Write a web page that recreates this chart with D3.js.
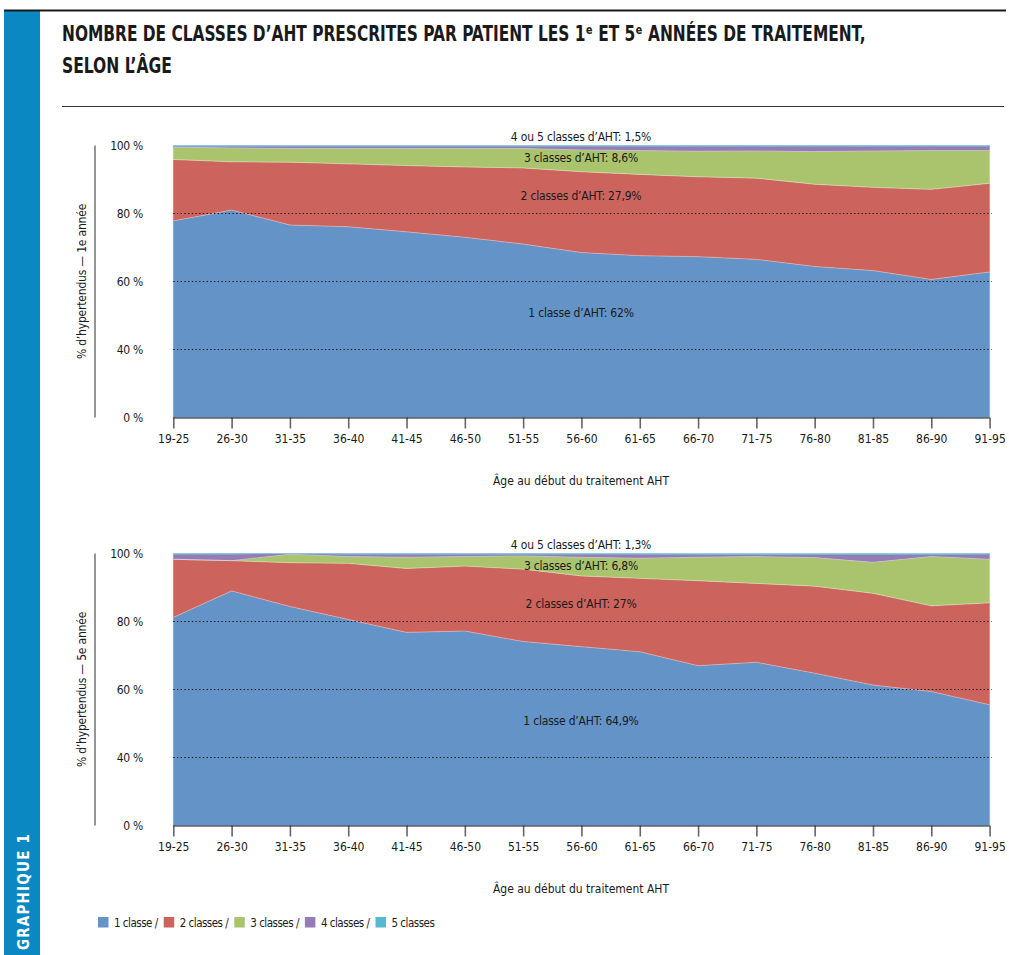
<!DOCTYPE html>
<html lang="fr">
<head>
<meta charset="utf-8">
<script src="https://cdn.jsdelivr.net/npm/d3@7"></script>
<style>
  html, body { margin: 0; padding: 0; background: #fff; }
  svg { display: block; }
  text { font-family: "Liberation Sans Narrow", "DejaVu Sans Condensed", "Arial Narrow", sans-serif; fill: #1a1a1a; }
</style>
</head>
<body>
<svg id="chart" width="1009" height="955"></svg>
<script>
// Age groups at treatment start
const ageGroups = ["19-25","26-30","31-35","36-40","41-45","46-50","51-55","56-60","61-65","66-70","71-75","76-80","81-85","86-90","91-95"];
const seriesKeys = ["1 classe","2 classes","3 classes","4 classes","5 classes"];
const seriesColors = ["#6393c7","#cc645d","#a9c46d","#957cb5","#55b9d0"];

// % of patients by number of AHT classes — first year
const year1OneClass    = [77.8, 81.0, 76.6, 76.1, 74.6, 73.0, 71.0, 68.5, 67.6, 67.3, 66.5, 64.4, 63.2, 60.6, 62.8];
const year1TwoClasses  = [18.1, 14.2, 18.5, 18.5, 19.5, 20.7, 22.4, 23.8, 23.9, 23.5, 23.9, 24.2, 24.5, 26.5, 26.1];
const year1ThreeClasses= [ 3.6,  4.1,  4.0,  4.5,  5.0,  5.4,  5.7,  6.4,  7.0,  7.5,  8.0,  9.6, 10.7, 11.4,  9.6];
const year1FourClasses = [ 0.3,  0.5,  0.7,  0.7,  0.7,  0.7,  0.7,  1.1,  1.3,  1.5,  1.4,  1.6,  1.4,  1.3,  1.3];
const year1FiveClasses = [ 0.2,  0.2,  0.2,  0.2,  0.2,  0.2,  0.2,  0.2,  0.2,  0.2,  0.2,  0.2,  0.2,  0.2,  0.2];

// % of patients by number of AHT classes — fifth year
const year5OneClass    = [81.2, 89.0, 84.4, 80.6, 76.8, 77.2, 74.1, 72.6, 71.1, 67.0, 68.0, 64.8, 61.3, 59.4, 55.5];
const year5TwoClasses  = [17.1,  8.9, 12.9, 16.5, 18.8, 19.1, 21.3, 20.8, 21.6, 25.0, 23.2, 25.6, 27.0, 25.2, 30.0];
const year5ThreeClasses= [ 0.0,  0.0,  2.5,  2.0,  3.3,  2.8,  3.9,  5.5,  5.9,  6.9,  7.9,  8.4,  9.1, 14.5, 12.8];
const year5FourClasses = [ 1.5,  1.9,  0.1,  0.7,  0.9,  0.7,  0.5,  0.9,  1.2,  0.8,  0.6,  0.9,  2.3,  0.6,  1.5];
const year5FiveClasses = [ 0.2,  0.2,  0.1,  0.2,  0.2,  0.2,  0.2,  0.2,  0.2,  0.3,  0.3,  0.3,  0.3,  0.3,  0.2];

// Overall shares written on each panel (top band first)
const year1Notes = ["4 ou 5 classes d’AHT: 1,5%", "3 classes d’AHT: 8,6%", "2 classes d’AHT: 27,9%", "1 classe d’AHT: 62%"];
const year5Notes = ["4 ou 5 classes d’AHT: 1,3%", "3 classes d’AHT: 6,8%", "2 classes d’AHT: 27%", "1 classe d’AHT: 64,9%"];

// Value axis: the lowest tick sits at the bottom of the plot and reads "0 %"
const yTickValues = [100, 80, 60, 40, 20];
const yTickLabels = ["100 %", "80 %", "60 %", "40 %", "0 %"];
const gridValues = [80, 60, 40];

const svg = d3.select("#chart");

// ---- page frame ----
svg.append("rect").attr("x", 4).attr("y", 11).attr("width", 36).attr("height", 944).attr("fill", "#0a88c1");
svg.append("line").attr("x1", 4).attr("x2", 1006).attr("y1", 10.5).attr("y2", 10.5)
  .attr("stroke", "#1a1a1a").attr("stroke-width", 2);
svg.append("line").attr("x1", 62).attr("x2", 1004).attr("y1", 106.5).attr("y2", 106.5)
  .attr("stroke", "#333").attr("stroke-width", 1);
svg.append("text")
  .attr("transform", "translate(29,950) rotate(-90)")
  .attr("font-size", 15).attr("font-weight", "bold").attr("letter-spacing", 1.2)
  .style("fill", "#fff")
  .text("GRAPHIQUE 1");

// ---- title: condensed horizontally to its set width ----
function titleLine(str, left, baseline, width) {
  const t = svg.append("text").attr("font-size", 22).attr("font-weight", "bold").text(str);
  const natural = t.node().getComputedTextLength();
  const sx = Math.min(1, width / natural);
  t.attr("transform", `translate(${left},${baseline}) scale(${sx},1)`);
}
titleLine("NOMBRE DE CLASSES D’AHT PRESCRITES PAR PATIENT LES 1ᵉ ET 5ᵉ ANNÉES DE TRAITEMENT,", 62, 41, 804);
titleLine("SELON L’ÂGE", 62, 73, 110);

// ---- shared horizontal scale ----
const x = d3.scalePoint().domain(ageGroups).range([173.3, 989.6]);

function buildRows(one, two, three, four, five) {
  return ageGroups.map((age, i) => ({
    age,
    "1 classe": one[i], "2 classes": two[i], "3 classes": three[i],
    "4 classes": four[i], "5 classes": five[i]
  }));
}

function drawPanel(rows, yTop, yBottom, axisTitle, notes) {
  const y = d3.scaleLinear().domain([20, 100]).range([yBottom, yTop]).clamp(true);
  const g = svg.append("g");

  const stacked = d3.stack().keys(seriesKeys)(rows);
  const area = d3.area()
    .x(d => x(d.data.age))
    .y0(d => y(d[0]))
    .y1(d => y(d[1]));
  const edge = d3.line().x(d => x(d.data.age)).y(d => y(d[1]));

  g.selectAll("path.layer").data(stacked).join("path")
    .attr("class", "layer")
    .attr("d", area)
    .attr("fill", (d, i) => seriesColors[i])
    .attr("stroke", (d, i) => seriesColors[i])
    .attr("stroke-width", 0.3);

  // faint light seams between bands
  g.selectAll("path.seam").data(stacked.slice(0, 3)).join("path")
    .attr("class", "seam")
    .attr("d", edge)
    .attr("fill", "none")
    .attr("stroke", "rgba(255,255,255,0.35)")
    .attr("stroke-width", 1);

  // dotted gridlines over the areas
  g.selectAll("line.grid").data(gridValues).join("line")
    .attr("class", "grid")
    .attr("x1", x.range()[0]).attr("x2", x.range()[1] + 2)
    .attr("y1", d => y(d)).attr("y2", d => y(d))
    .attr("stroke", "#111").attr("stroke-width", 1.2)
    .attr("stroke-dasharray", "1.3,2.4");

  // value labels on the left
  g.selectAll("text.ytick").data(yTickValues).join("text")
    .attr("class", "ytick")
    .attr("x", 143).attr("y", d => y(d) + 4)
    .attr("text-anchor", "end").attr("font-size", 12)
    .attr("letter-spacing", -0.3)
    .text((d, i) => yTickLabels[i]);

  // grey rule beside the value labels
  g.append("line").attr("x1", 95).attr("x2", 95).attr("y1", yTop).attr("y2", yBottom)
    .attr("stroke", "#7a7a7a").attr("stroke-width", 1.6);

  // axis title (rotated)
  g.append("text")
    .attr("transform", `translate(86,${(yTop + yBottom) / 2}) rotate(-90)`)
    .attr("text-anchor", "middle").attr("font-size", 12).attr("letter-spacing", -0.2)
    .text(axisTitle);

  // category axis
  const xAxis = d3.axisBottom(x).tickSize(11).tickPadding(6);
  const ax = g.append("g").attr("transform", `translate(0,${yBottom})`).call(xAxis);
  ax.select(".domain").remove();
  ax.selectAll(".tick line").attr("stroke", "#666").attr("stroke-width", 1.6);
  ax.selectAll(".tick text").attr("font-size", 12).attr("font-family", null).attr("fill", "#1a1a1a");
  g.append("line").attr("x1", x.range()[0]).attr("x2", x.range()[1])
    .attr("y1", yBottom + 0.5).attr("y2", yBottom + 0.5)
    .attr("stroke", "#1a1a1a").attr("stroke-width", 1);

  g.append("text").attr("x", 581).attr("y", yBottom + 67)
    .attr("text-anchor", "middle").attr("font-size", 12)
    .text("Âge au début du traitement AHT");

  // overall shares, placed at a level of the value scale
  const noteLevels = [101.2, 95.2, 84.0, 49.5];
  g.selectAll("text.note").data(notes).join("text")
    .attr("class", "note")
    .attr("x", 581).attr("y", (d, i) => y.copy().clamp(false)(noteLevels[i]))
    .attr("text-anchor", "middle").attr("font-size", 12).attr("letter-spacing", -0.2)
    .text(d => d);
}

drawPanel(buildRows(year1OneClass, year1TwoClasses, year1ThreeClasses, year1FourClasses, year1FiveClasses),
  145.5, 417.5, "% d’hypertendus — 1e année", year1Notes);
drawPanel(buildRows(year5OneClass, year5TwoClasses, year5ThreeClasses, year5FourClasses, year5FiveClasses),
  553.5, 825.5, "% d’hypertendus — 5e année", year5Notes);

// ---- legend: swatch, label, then the next item right after it ----
const legend = svg.append("g").attr("transform", "translate(98,917)");
const legendLabels = seriesKeys.map((k, i) => i < seriesKeys.length - 1 ? k + " /" : k);
let cursor = 0;
seriesKeys.forEach((k, i) => {
  const item = legend.append("g").attr("transform", `translate(${cursor},0)`);
  item.append("rect").attr("width", 10.5).attr("height", 10.5).attr("fill", seriesColors[i]);
  const label = item.append("text").attr("x", 16).attr("y", 10).attr("font-size", 11.5)
    .attr("letter-spacing", -0.5)
    .text(legendLabels[i]);
  cursor += 16 + label.node().getComputedTextLength() + 6;
});
</script>
</body>
</html>
